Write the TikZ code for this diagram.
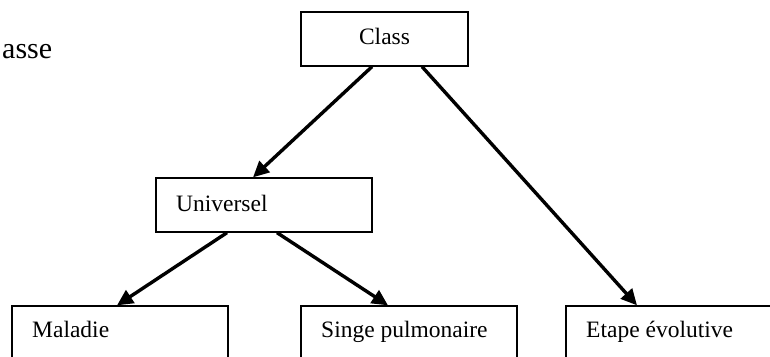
\documentclass[tikz,border=0pt]{standalone}
\usepackage{fontspec}
\setmainfont{Liberation Serif}
\usetikzlibrary{arrows.meta}
\begin{document}
\begin{tikzpicture}[x=1pt,y=-1pt,
  every node/.style={font=\fontsize{23.5}{28}\selectfont,inner sep=0pt},
  box/.style={draw,line width=1.3pt,rectangle,minimum width=216pt,minimum height=54pt},
  lowbox/.style={box,minimum height=52pt},
  caption/.style={anchor=base west},
  link/.style={line width=3.4pt,-{Triangle[length=16pt,width=15pt]}}]
  \useasboundingbox (0,0) rectangle (770,356);
  \clip (0,0) rectangle (770,356);
  % cut-off heading on the left
  \node[caption,font=\fontsize{30}{36}\selectfont] (head) at (2,58) {asse};
  % boxes
  \node[box,minimum width=167pt] (cls) at (384.5,39) {};
  \node[box] (uni) at (264,205) {};
  \node[lowbox] (mal) at (120,332) {};
  \node[lowbox] (sin) at (409,332) {};
  \node[lowbox] (eta) at (674,332) {};
  % box captions
  \node[anchor=base] (clsT) at (384.5,44) {Class};
  \node[caption] (uniT) at (176,211) {Universel};
  \node[caption] (malT) at (32,337) {Maladie};
  \node[caption] (sinT) at (321,337) {Singe pulmonaire};
  \node[caption] (etaT) at (586,337) {Etape évolutive};
  % connectors
  \draw[link] ([xshift=-12.5pt]cls.south) -- ([xshift=-11pt]uni.north);
  \draw[link] ([xshift=37.5pt]cls.south) -- ([xshift=-37pt]eta.north);
  \draw[link] ([xshift=-37pt]uni.south) -- ([xshift=-3pt]mal.north);
  \draw[link] ([xshift=13pt]uni.south) -- ([xshift=-21pt]sin.north);
\end{tikzpicture}
\end{document}
